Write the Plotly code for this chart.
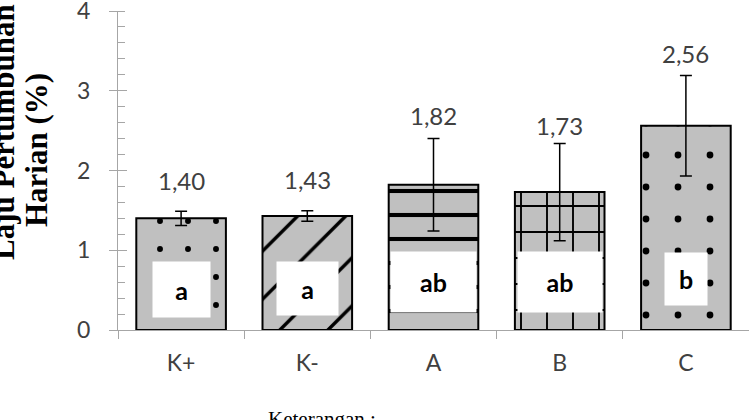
import plotly.graph_objects as go

categories = ["K+", "K-", "A", "B", "C"]
values = [1.40, 1.43, 1.82, 1.73, 2.56]
errors = [0.09, 0.065, 0.58, 0.61, 0.63]
value_labels = ["1,40", "1,43", "1,82", "1,73", "2,56"]
group_letters = ["a", "a", "ab", "ab", "b"]
y_ticks = [0, 1, 2, 3, 4]

# styles
patterns = [".", "/", "-", "+", "."]
pattern_sizes = [28, 34, 24, 26, 32]
pattern_solid = [0.035, 0.1, 0.17, 0.14, 0.035]
label_shift = [31, 31, 23, 18, 22]
box_y = [0.51, 0.52, 0.60, 0.60, 0.64]
box_w = [55, 59, 83, 82, 40]
box_h = [53, 51, 58, 58, 50]

L, R, T, B = 118, 0, 11, 90
W, H = 749, 420
pw = W - L - R
ph = H - T - B

def px_x(px):
    return (px - L) / pw

def px_y(py):
    return (H - B - py) / ph

fig = go.Figure()
fig.add_trace(go.Bar(
    x=categories, y=values,
    marker=dict(
        color="#c0c0c0",
        line=dict(color="black", width=2),
        pattern=dict(shape=patterns, size=pattern_sizes, solidity=pattern_solid,
                     fgcolor="black", bgcolor="#c0c0c0", fillmode="replace"),
    ),
    error_y=dict(type="data", array=errors, visible=True, color="black",
                 thickness=1.5, width=6),
    showlegend=False,
))
fig.add_trace(go.Scatter(x=categories, y=values, yaxis="y2", mode="markers",
                         marker=dict(opacity=0), showlegend=False, hoverinfo="skip"))

annotations = []
for c, v, e, t, s in zip(categories, values, errors, value_labels, label_shift):
    annotations.append(dict(x=c, y=v + e, text=t, showarrow=False, yshift=s,
                            yanchor="middle", xanchor="center",
                            font=dict(family="Lato", size=24, color="#404040")))
for c, t, by, bw, bh in zip(categories, group_letters, box_y, box_w, box_h):
    annotations.append(dict(x=c, y=by, text="<b>" + t + "</b>", showarrow=False,
                            width=bw, height=bh, bgcolor="white", borderpad=1,
                            xanchor="center", yanchor="middle", valign="middle",
                            font=dict(family="Lato", size=25, color="black")))
annotations.append(dict(xref="paper", yref="paper", x=px_x(3), y=px_y(132),
                        text="<b>Laju Pertumbuhan</b>", textangle=-90, showarrow=False,
                        xanchor="center", yanchor="middle",
                        font=dict(family="Liberation Serif", size=31, color="black")))
annotations.append(dict(xref="paper", yref="paper", x=px_x(36), y=px_y(150),
                        text="<b>Harian (%)</b>", textangle=-90, showarrow=False,
                        xanchor="center", yanchor="middle",
                        font=dict(family="Liberation Serif", size=31, color="black")))
annotations.append(dict(xref="paper", yref="paper", x=px_x(266), y=px_y(405),
                        text="Keterangan :", showarrow=False,
                        xanchor="left", yanchor="top",
                        font=dict(family="Liberation Serif", size=21, color="black")))

axis_col = "#a6a6a6"
fig.update_layout(
    width=W, height=H,
    margin=dict(l=L, r=R, t=T, b=B, autoexpand=False),
    paper_bgcolor="white", plot_bgcolor="white",
    bargap=0.29,
    annotations=annotations,
    xaxis=dict(type="category", showline=True, linecolor=axis_col, linewidth=1,
               ticks="outside", tickson="boundaries", ticklen=8, tickcolor=axis_col,
               showgrid=False, ticklabelstandoff=12, automargin=False,
               tickfont=dict(family="Lato", size=23, color="#404040")),
    yaxis=dict(range=[0, 4], tickvals=y_ticks, showline=True, linecolor=axis_col,
               linewidth=1, ticks="outside", ticklen=8, tickcolor=axis_col,
               showgrid=False, zeroline=False, ticklabelstandoff=14,
               automargin=False, ticklabeloverflow="allow",
               minor=dict(dtick=0.2, ticks="inside", ticklen=7, tickcolor=axis_col),
               tickfont=dict(family="Lato", size=23, color="#404040")),
    yaxis2=dict(range=[0, 4], overlaying="y", side="left", anchor="x",
                tickvals=y_ticks, ticks="inside", ticklen=9, tickcolor=axis_col,
                showticklabels=False, showgrid=False, zeroline=False, showline=False,
                automargin=False),
)

fig.write_html("out.html", config={"displayModeBar": False},
               post_script="document.body.style.margin='0px';document.body.style.overflow='hidden';")
